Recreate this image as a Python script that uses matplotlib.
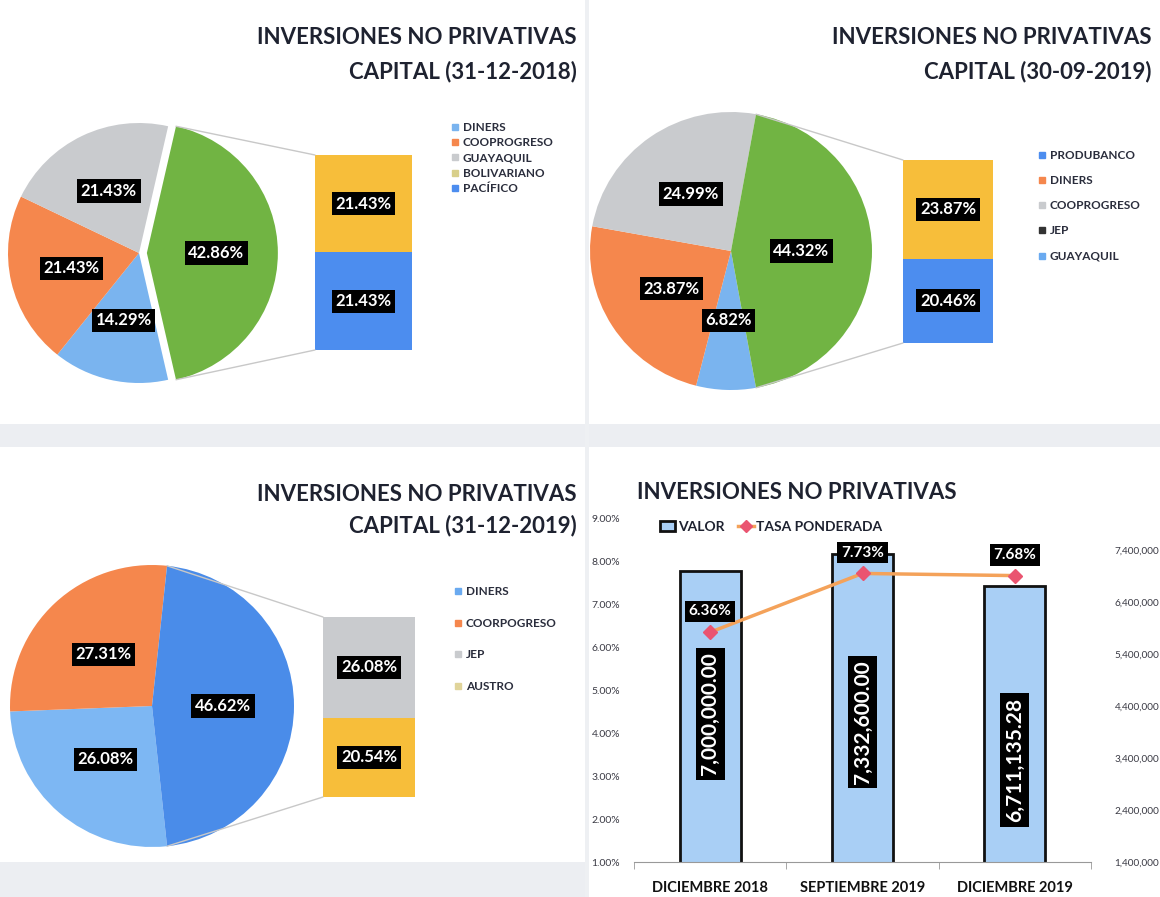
import matplotlib
matplotlib.use('Agg')
import matplotlib.pyplot as plt
from matplotlib.patches import ConnectionPatch, Rectangle, Patch
from matplotlib.lines import Line2D
import numpy as np

plt.rcParams['font.family'] = ['Lato', 'DejaVu Sans']

# ---------------- data ----------------
p1_categories = ['DINERS', 'COOPROGRESO', 'GUAYAQUIL', 'BOLIVARIANO', 'PACÍFICO']
p1_values = [14.29, 21.43, 21.43, 21.43, 21.43]

p2_categories = ['PRODUBANCO', 'DINERS', 'COOPROGRESO', 'JEP', 'GUAYAQUIL']
p2_values = [6.82, 23.87, 24.99, 23.866, 20.456]

p3_categories = ['DINERS', 'COORPOGRESO', 'JEP', 'AUSTRO']
p3_values = [26.08, 27.31, 26.08, 20.54]

periods = ['DICIEMBRE 2018', 'SEPTIEMBRE 2019', 'DICIEMBRE 2019']
valor = [7000000.00, 7332600.00, 6711135.28]
tasa_ponderada = [6.36, 7.73, 7.68]
pct_ticks = [1, 2, 3, 4, 5, 6, 7, 8, 9]
valor_ticks = [1400000, 2400000, 3400000, 4400000, 5400000, 6400000, 7400000]

# ---------------- layout ----------------
W, H = 1160, 897
fig = plt.figure(figsize=(W / 100, H / 100), dpi=100)
fig.patch.set_facecolor('white')


def px_axes(x0, y0, x1, y1):
    return fig.add_axes([x0 / W, 1 - y1 / H, (x1 - x0) / W, (y1 - y0) / H])


# faint scan background bands
for (x0, y0, x1, y1, c) in [(0, 424, 1160, 447, '#eceef2'),
                            (0, 862, 585, 897, '#eceef2'),
                            (585, 0, 589, 897, '#eef0f3')]:
    fig.add_artist(Rectangle((x0 / W, 1 - y1 / H), (x1 - x0) / W, (y1 - y0) / H,
                             transform=fig.transFigure, facecolor=c, edgecolor='none', zorder=0))

TITLE_C = '#1e2230'
LBL_BOX = dict(boxstyle='square,pad=0.22', facecolor='black', edgecolor='none')


def title(x, y, s, ha='right', size=16):
    fig.text(x / W, 1 - y / H, s, ha=ha, va='center', fontsize=size,
             fontweight='bold', color=TITLE_C)


def bar_of_pie(values, categories, n_main, pie_colors, other_color, bar_colors,
               legend_colors, cx, cy, rx, ry, bar_box, explode, pctdist,
               legend_xy, legend_spacing):
    main = list(values[:n_main])
    secondary = list(values[n_main:])
    other = sum(secondary)
    pie_vals = main + [other]
    total = sum(pie_vals)
    k = 1.35
    ax = px_axes(cx - k * rx, cy - k * ry, cx + k * rx, cy + k * ry)
    it = iter(pie_vals)
    wedges, texts, autotexts = ax.pie(
        pie_vals, colors=list(pie_colors) + [other_color],
        startangle=-other / total * 180, counterclock=False,
        explode=[0] * n_main + [explode],
        autopct=lambda p: f'{next(it):.2f}%', pctdistance=pctdist,
        textprops=dict(color='white', fontweight='bold', fontsize=12),
        wedgeprops=dict(linewidth=0))
    ax.set_aspect('auto')
    ax.set_xlim(-k, k)
    ax.set_ylim(-k, k)
    for w in wedges:
        w.set_clip_on(False)
    for t in autotexts:
        t.set_bbox(LBL_BOX)

    # stacked bar
    axb = px_axes(*bar_box)
    b = 0
    for v, c in zip(reversed(secondary), reversed(bar_colors)):
        axb.bar(0, v, bottom=b, width=1, color=c, linewidth=0)
        axb.text(0, b + v / 2, f'{v:.2f}%', ha='center', va='center', color='white',
                 fontweight='bold', fontsize=12, bbox=LBL_BOX)
        b += v
    axb.set_xlim(-0.5, 0.5)
    axb.set_ylim(0, other)
    axb.axis('off')

    # connectors
    ow = wedges[-1]
    ccx, ccy = ow.center
    for ang, yb in [(ow.theta2, other), (ow.theta1, 0)]:
        pA = (ccx + np.cos(np.radians(ang)), ccy + np.sin(np.radians(ang)))
        con = ConnectionPatch(xyA=pA, coordsA=ax.transData, xyB=(-0.5, yb),
                              coordsB=axb.transData, color='#c8c8c8', lw=1.0)
        fig.add_artist(con)

    handles = [Line2D([], [], marker='s', ls='', color=c, markersize=4.5) for c in legend_colors]
    fig.legend(handles, categories, loc='upper left',
               bbox_to_anchor=(legend_xy[0] / W, 1 - legend_xy[1] / H),
               frameon=False, prop=dict(weight='bold', size=8.5),
               labelcolor='#2a2d3c', handlelength=0.5, handletextpad=0.4,
               labelspacing=legend_spacing, borderpad=0, borderaxespad=0)
    return ax, autotexts


LB = '#7ab4ef'
OR = '#f5874d'
GR = '#c9cbce'
YE = '#f7be3a'
BL = '#4c8def'
GN = '#71b443'

# Panel 1
title(577, 37, 'INVERSIONES NO PRIVATIVAS')
title(577, 72, 'CAPITAL (31-12-2018)')
bar_of_pie(p1_values, p1_categories, 3, [LB, OR, GR], GN, [YE, BL],
           [LB, OR, GR, '#d8cf8a', BL],
           139, 253, 131, 130, (315, 155, 412, 350), 0.06, 0.53,
           (452, 122), 0.36)

# Panel 2
title(1152, 37, 'INVERSIONES NO PRIVATIVAS')
title(1152, 72, 'CAPITAL (30-09-2019)')
bar_of_pie(p2_values, p2_categories, 3, [LB, OR, GR], GN, [YE, BL],
           [BL, OR, GR, '#333333', '#6aaaf0'],
           731, 251, 141, 139, (903, 160, 993, 343), 0.0, 0.5,
           (1039, 150), 1.2)

# Panel 3
title(577, 494, 'INVERSIONES NO PRIVATIVAS')
title(577, 526, 'CAPITAL (31-12-2019)')
bar_of_pie(p3_values, p3_categories, 2, ['#7db7f3', OR], '#4a8ce9', [GR, YE],
           ['#6aaaf0', OR, GR, '#e0d49a'],
           152, 706, 142, 141, (323, 617, 415, 797), 0.0, 0.5,
           (455, 586), 1.75)

# Panel 4 combo chart
title(637, 492, 'INVERSIONES NO PRIVATIVAS', ha='left', size=16)
ax = px_axes(634, 519, 1091, 862)
axv = ax.twinx()
x = np.arange(len(periods))
BAR_C = '#a9cff5'
axv.bar(x, valor, width=0.4, color=BAR_C, edgecolor='#111111', linewidth=2)
axv.set_ylim(1400000, 8000000)
axv.set_yticks(valor_ticks)
axv.set_yticklabels([f'{t:,}' for t in valor_ticks])
axv.tick_params(axis='y', length=0, pad=17, labelsize=7.2, labelcolor='#3a3a44')
for s in axv.spines.values():
    s.set_visible(False)

label_frac = [0.51, 0.454, 0.37]
for i, v in enumerate(valor):
    axv.text(i, 1400000 + label_frac[i] * (v - 1400000), f'{v:,.2f}', rotation=90,
             ha='center', va='center', color='white', fontweight='bold', fontsize=15,
             bbox=dict(boxstyle='square,pad=0.22', facecolor='black', edgecolor='none'))

LINE_C = '#f4a25a'
MK_C = '#ea5470'
ax.plot(x, tasa_ponderada, color=LINE_C, lw=2.5, marker='D', markersize=7,
        markerfacecolor=MK_C, markeredgecolor=MK_C, zorder=3)
for i, t in enumerate(tasa_ponderada):
    ax.annotate(f'{t:.2f}%', (i, t), xytext=(0, 15), textcoords='offset points',
                ha='center', va='center', color='white', fontweight='bold', fontsize=11,
                bbox=dict(boxstyle='square,pad=0.25', facecolor='black', edgecolor='none'))
ax.set_zorder(axv.get_zorder() + 1)
ax.patch.set_visible(False)
ax.set_xlim(-0.5, len(periods) - 0.5)
ax.set_ylim(1, 9)
ax.set_yticks(pct_ticks)
ax.set_yticklabels([f'{t:.2f}%' for t in pct_ticks])
ax.tick_params(axis='y', length=0, pad=10, labelsize=7.5, labelcolor='#3a3a44')
ax.set_xticks(x)
ax.set_xticklabels(periods, fontweight='bold', fontsize=10.5, color='#111111')
ax.tick_params(axis='x', which='major', length=0, pad=14)
ax.set_xticks(np.arange(len(periods) + 1) - 0.5, minor=True)
ax.tick_params(axis='x', which='minor', length=5, color='#999999', direction='out')
for k_, s in ax.spines.items():
    s.set_visible(k_ == 'bottom')
ax.spines['bottom'].set_color('#999999')

leg_handles = [Patch(facecolor=BAR_C, edgecolor='#111111', linewidth=2),
               Line2D([], [], color=LINE_C, lw=2.5, marker='D', markersize=6,
                      markerfacecolor=MK_C, markeredgecolor=MK_C)]
fig.legend(leg_handles, ['VALOR', 'TASA PONDERADA'], loc='center left',
           bbox_to_anchor=(660 / W, 1 - 527 / H), ncol=2, frameon=False,
           prop=dict(weight='bold', size=10), labelcolor='#1e2230',
           handlelength=1.1, handletextpad=0.2, columnspacing=1.0,
           borderpad=0, borderaxespad=0)

fig.savefig('out.png', dpi=100, facecolor='white')
